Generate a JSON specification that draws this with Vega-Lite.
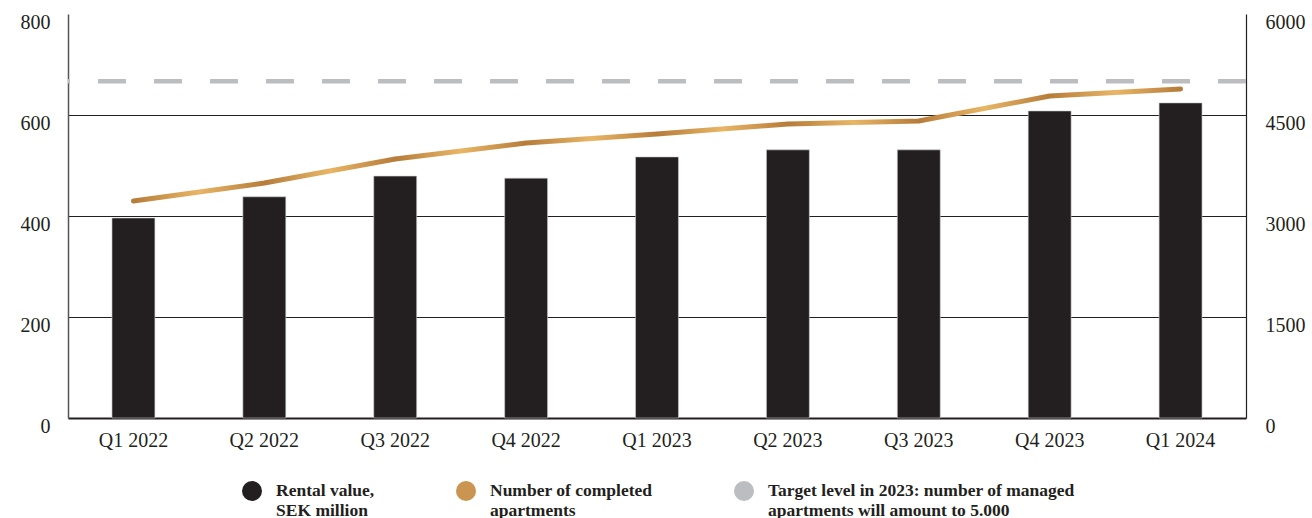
{
  "$schema": "https://vega.github.io/schema/vega-lite/v6.json",
  "width": 1178,
  "height": 404,
  "autosize": {"type": "none"},
  "padding": {"left": 68, "top": 14, "right": 66, "bottom": 100},
  "background": "#ffffff",
  "config": {
    "view": {"stroke": null},
    "font": "Liberation Serif",
    "axis": {
      "labelFont": "Liberation Serif",
      "labelFontSize": 20,
      "labelColor": "#231f20",
      "ticks": false,
      "title": null
    }
  },
  "data": {
    "values": [
      {"quarter": "Q1 2022", "rental": 396, "apartments": 3223, "series": "Rental value, SEK million"},
      {"quarter": "Q2 2022", "rental": 438, "apartments": 3490, "series": "Rental value, SEK million"},
      {"quarter": "Q3 2022", "rental": 479, "apartments": 3847, "series": "Rental value, SEK million"},
      {"quarter": "Q4 2022", "rental": 475, "apartments": 4084, "series": "Rental value, SEK million"},
      {"quarter": "Q1 2023", "rental": 517, "apartments": 4218, "series": "Rental value, SEK million"},
      {"quarter": "Q2 2023", "rental": 531, "apartments": 4366, "series": "Rental value, SEK million"},
      {"quarter": "Q3 2023", "rental": 531, "apartments": 4411, "series": "Rental value, SEK million"},
      {"quarter": "Q4 2023", "rental": 608, "apartments": 4782, "series": "Rental value, SEK million"},
      {"quarter": "Q1 2024", "rental": 624, "apartments": 4886, "series": "Rental value, SEK million"}
    ]
  },
  "encoding": {
    "x": {
      "field": "quarter",
      "type": "nominal",
      "sort": null,
      "scale": {"paddingInner": 0.672, "paddingOuter": 0.336},
      "axis": {
        "labelAngle": 0,
        "labelPadding": 12,
        "domainColor": "#231f20",
        "domainWidth": 2,
        "labelBaseline": "top"
      }
    }
  },
  "layer": [
    {
      "mark": {"type": "bar", "stroke": "#cfcfcf", "strokeWidth": 0.6},
      "encoding": {
        "y": {
          "field": "rental",
          "type": "quantitative",
          "scale": {"domain": [0, 800], "nice": false},
          "axis": {
            "values": [0, 200, 400, 600, 800],
            "orient": "left",
            "labelPadding": 18,
            "labelOffset": 8,
            "domainColor": "#555555",
            "domainWidth": 1.5,
            "grid": true,
            "gridColor": "#231f20",
            "gridWidth": 1,
            "gridOpacity": {"condition": {"test": "datum.value == 0 || datum.value == 800", "value": 0}, "value": 1}
          }
        },
        "color": {
          "field": "series",
          "type": "nominal",
          "scale": {
            "domain": ["Rental value, SEK million", "Number of completed apartments", "Target level in 2023: number of managed apartments will amount to 5.000"],
            "range": ["#231f20", "#c99550", "#bcbdc0"]
          },
          "legend": {
            "orient": "none",
            "legendX": 174,
            "legendY": 467,
            "direction": "horizontal",
            "columns": 3,
            "title": null,
            "symbolType": "circle",
            "symbolSize": 400,
            "symbolStrokeWidth": 0,
            "symbolOpacity": 1,
            "labelFont": "Liberation Serif",
            "labelFontWeight": "bold",
            "labelFontSize": 17.5,
            "labelColor": "#231f20",
            "labelLimit": 0,
            "labelOffset": 14,
            "columnPadding": 81,
            "labelExpr": "datum.label == 'Rental value, SEK million' ? ['Rental value,', 'SEK million'] : datum.label == 'Number of completed apartments' ? ['Number of completed', 'apartments'] : ['Target level in 2023: number of managed', 'apartments will amount to 5.000']"
          }
        }
      }
    },
    {
      "mark": {
        "type": "line",
        "strokeWidth": 5,
        "strokeCap": "round",
        "strokeJoin": "round",
        "stroke": {
          "gradient": "linear",
          "x1": 0, "y1": 0, "x2": 1, "y2": 0,
          "stops": [
            {"offset": 0, "color": "#b67c3a"},
            {"offset": 0.0625, "color": "#e8b666"},
            {"offset": 0.125, "color": "#b67c3a"},
            {"offset": 0.1875, "color": "#e8b666"},
            {"offset": 0.25, "color": "#b67c3a"},
            {"offset": 0.3125, "color": "#e8b666"},
            {"offset": 0.375, "color": "#b67c3a"},
            {"offset": 0.4375, "color": "#e8b666"},
            {"offset": 0.5, "color": "#b67c3a"},
            {"offset": 0.5625, "color": "#e8b666"},
            {"offset": 0.625, "color": "#b67c3a"},
            {"offset": 0.6875, "color": "#e8b666"},
            {"offset": 0.75, "color": "#b67c3a"},
            {"offset": 0.8125, "color": "#e8b666"},
            {"offset": 0.875, "color": "#b67c3a"},
            {"offset": 0.9375, "color": "#e8b666"},
            {"offset": 1, "color": "#b67c3a"}
          ]
        }
      },
      "encoding": {
        "y": {
          "field": "apartments",
          "type": "quantitative",
          "scale": {"domain": [0, 6000], "nice": false},
          "axis": {
            "values": [0, 1500, 3000, 4500, 6000],
            "format": "d",
            "orient": "right",
            "labelPadding": 19,
            "labelOffset": 8,
            "domainColor": "#231f20",
            "domainWidth": 1.2,
            "grid": false
          }
        }
      }
    },
    {
      "data": {"values": [{"target": 5000}]},
      "mark": {"type": "rule", "color": "#bcbdc0", "strokeWidth": 4.5, "strokeDash": [28, 28]},
      "encoding": {
        "x": null,
        "y": {
          "field": "target",
          "type": "quantitative",
          "scale": {"domain": [0, 6000], "nice": false},
          "axis": null
        }
      }
    }
  ],
  "resolve": {"scale": {"y": "independent"}}
}
